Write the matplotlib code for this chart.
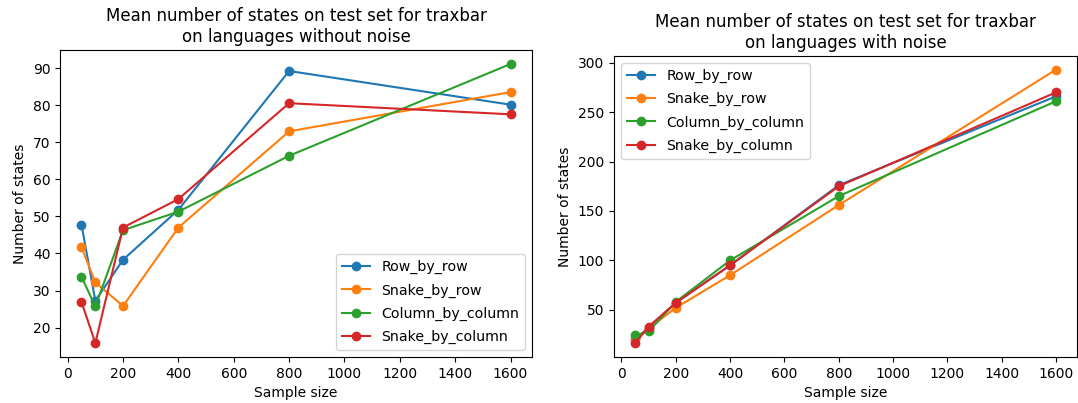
import matplotlib
matplotlib.use("Agg")
import matplotlib.pyplot as plt

sample_sizes = [50, 100, 200, 400, 800, 1600]
series_names = ["Row_by_row", "Snake_by_row", "Column_by_column", "Snake_by_column"]

# Mean number of states, languages without noise
clean_row_by_row = [47.8, 27.2, 38.3, 51.8, 89.3, 80.2]
clean_snake_by_row = [41.7, 32.2, 25.8, 47.0, 73.0, 83.6]
clean_column_by_column = [33.7, 25.7, 46.3, 51.3, 66.4, 91.2]
clean_snake_by_column = [26.9, 15.8, 47.0, 54.7, 80.6, 77.6]

# Mean number of states, languages with noise
noisy_row_by_row = [20, 32, 57, 95, 176, 266]
noisy_snake_by_row = [20, 31, 52, 85, 156, 293]
noisy_column_by_column = [24, 28, 58, 100, 165, 261]
noisy_snake_by_column = [16, 33, 57, 95, 175, 270]

clean = [clean_row_by_row, clean_snake_by_row, clean_column_by_column, clean_snake_by_column]
noisy = [noisy_row_by_row, noisy_snake_by_row, noisy_column_by_column, noisy_snake_by_column]
colors = ["#1f77b4", "#ff7f0e", "#2ca02c", "#d62728"]

fig = plt.figure(figsize=(10.78, 4.03), dpi=100)
ax1 = fig.add_axes([0.0557, 0.1141, 0.4378, 0.7618])
ax2 = fig.add_axes([0.5696, 0.1141, 0.4295, 0.747])

for vals, name, c in zip(clean, series_names, colors):
    ax1.plot(sample_sizes, vals, marker="o", color=c, label=name)
for vals, name, c in zip(noisy, series_names, colors):
    ax2.plot(sample_sizes, vals, marker="o", color=c, label=name)

ax1.set_title("Mean number of states on test set for traxbar\non languages without noise", fontsize=12)
ax2.set_title("Mean number of states on test set for traxbar\non languages with noise", fontsize=12)
for ax in (ax1, ax2):
    ax.set_xlabel("Sample size")
    ax.set_ylabel("Number of states")
    ax.set_xticks([0, 200, 400, 600, 800, 1000, 1200, 1400, 1600])
ax1.set_yticks([20, 30, 40, 50, 60, 70, 80, 90])
ax2.set_yticks([50, 100, 150, 200, 250, 300])
ax1.legend(loc="lower right", fontsize=10.2, labelspacing=0.65)
ax2.legend(loc="upper left", fontsize=10.2, labelspacing=0.65)

fig.savefig("out.png", dpi=100)
